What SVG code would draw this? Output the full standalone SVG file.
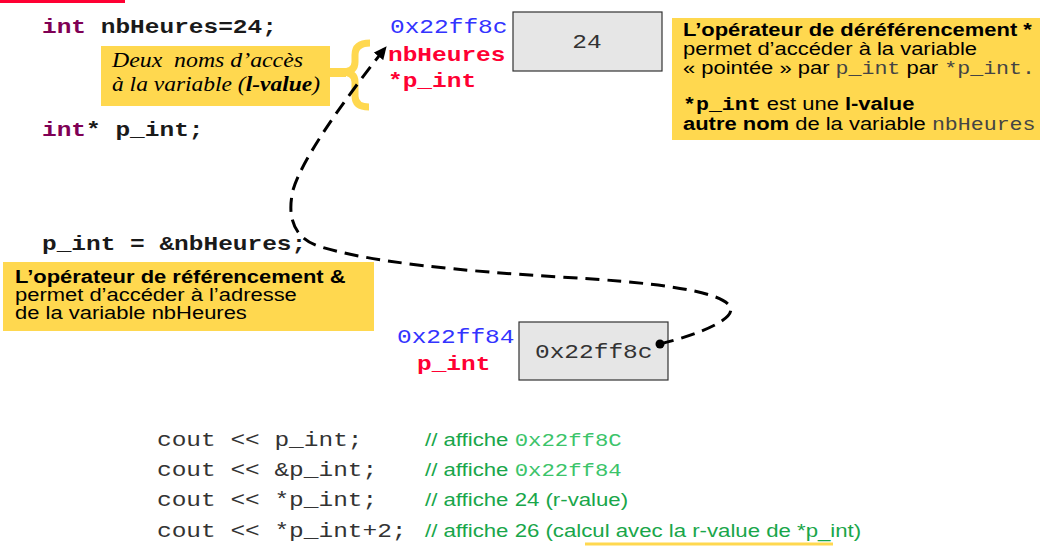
<svg xmlns="http://www.w3.org/2000/svg" width="1045" height="549" viewBox="0 0 1045 549">
  <style>
    .code { font-family: "Liberation Mono", "Courier New", monospace; font-weight: bold; font-size: 20.4px; fill: #1a1a1a; }
    .kw { fill: #7f0055; }
    .addr { font-family: "Liberation Mono", "Courier New", monospace; font-size: 20.4px; fill: #3333ff; }
    .name { font-family: "Liberation Mono", "Courier New", monospace; font-weight: bold; font-size: 20.4px; fill: #ff0033; }
    .val { font-family: "Liberation Mono", "Courier New", monospace; font-size: 20.4px; fill: #333333; }
    .cell { fill: #e6e6e6; stroke: #333333; stroke-width: 1.2; }
    .note { fill: #ffd84f; }
    .sans { font-family: "Liberation Sans", Arial, sans-serif; font-size: 18.3px; fill: #000000; }
    .b { font-weight: bold; }
    .mono { font-family: "Liberation Mono", "Courier New", monospace; font-size: 18px; fill: #444444; }
    .monob { font-family: "Liberation Mono", "Courier New", monospace; font-size: 18px; font-weight: bold; fill: #000000; }
    .script { font-family: "Liberation Serif", "DejaVu Serif", serif; font-style: italic; font-size: 21px; fill: #000000; }
    .cmt { font-family: "Liberation Sans", Arial, sans-serif; font-size: 18.5px; fill: #19a64a; }
    .cmtnum { font-family: "Liberation Mono", "Courier New", monospace; font-size: 18.6px; fill: #3cc46a; }
    .link { fill: none; stroke: #000000; stroke-width: 3; stroke-dasharray: 14 8; }
  </style>
  <defs>
    <marker id="arrow" markerUnits="userSpaceOnUse" markerWidth="14" markerHeight="12" refX="12" refY="6" orient="auto">
      <path d="M0,0 L13,6 L0,12 Z" fill="#000000"/>
    </marker>
  </defs>

  <!-- slide accent -->
  <rect x="0" y="0" width="125" height="3" fill="#ff0033"/>

  <!-- declarations -->
  <g id="decl-nbHeures">
    <text class="code" transform="translate(42,33) scale(1.2,1)"><tspan class="kw">int</tspan> nbHeures=24;</text>
  </g>
  <g id="decl-p_int">
    <text class="code" transform="translate(42,136) scale(1.2,1)"><tspan class="kw">int</tspan>* p_int;</text>
  </g>
  <g id="assign">
    <text class="code" transform="translate(42,250) scale(1.2,1)">p_int = &amp;nbHeures;</text>
  </g>

  <!-- l-value note with brace -->
  <g id="note-lvalue">
    <rect class="note" x="101" y="46" width="229" height="60"/>
    <rect class="note" x="328" y="68" width="18" height="9"/>
    <path d="M370,43 Q355,43 355,55 L355,62 Q355,72 342,72 Q355,72 355,82 L355,96 Q355,107 369,107" fill="none" stroke="#ffd84f" stroke-width="7"/>
    <text class="script" x="112" y="67" textLength="191" lengthAdjust="spacingAndGlyphs" xml:space="preserve">Deux  noms d’accès</text>
    <text class="script" x="112" y="91" textLength="208" lengthAdjust="spacingAndGlyphs">à la variable (<tspan font-weight="bold">l-value</tspan>)</text>
  </g>

  <!-- variable nbHeures -->
  <g id="var-nbHeures">
    <rect class="cell" x="513" y="12" width="149" height="59"/>
    <text class="val" text-anchor="middle" transform="translate(587,48) scale(1.2,1)">24</text>
    <text class="addr" transform="translate(390,33) scale(1.2,1)">0x22ff8c</text>
    <text class="name" transform="translate(388,61) scale(1.2,1)">nbHeures</text>
    <text class="name" transform="translate(388,87) scale(1.2,1)">*p_int</text>
  </g>

  <!-- variable p_int -->
  <g id="var-p_int">
    <rect class="cell" x="519" y="322" width="149" height="58"/>
    <text class="val" transform="translate(535,358) scale(1.2,1)">0x22ff8c</text>
    <text class="addr" transform="translate(397,343) scale(1.2,1)">0x22ff84</text>
    <text class="name" transform="translate(417,370) scale(1.2,1)">p_int</text>
  </g>

  <!-- dereference note -->
  <g id="note-deref">
    <rect class="note" x="672" y="18" width="368" height="122"/>
    <text class="sans b" transform="translate(683,36) scale(1.2,1)">L’opérateur de déréférencement *</text>
    <text class="sans" transform="translate(683,55) scale(1.2,1)">permet d’accéder à la variable</text>
    <text class="sans" transform="translate(683,74) scale(1.2,1)">« pointée » par <tspan class="mono">p_int</tspan> par <tspan class="mono">*p_int.</tspan></text>
    <text class="sans" transform="translate(683,110) scale(1.2,1)"><tspan class="monob">*p_int</tspan> est une <tspan class="b">l-value</tspan></text>
    <text class="sans" transform="translate(683,130) scale(1.2,1)"><tspan class="b">autre nom</tspan> de la variable <tspan class="mono">nbHeures</tspan></text>
  </g>

  <!-- reference note -->
  <g id="note-ref">
    <rect class="note" x="3" y="262" width="371" height="69"/>
    <text class="sans b" transform="translate(15,283) scale(1.2,1)">L’opérateur de référencement &amp;</text>
    <text class="sans" transform="translate(15,301) scale(1.2,1)">permet d’accéder à l’adresse</text>
    <text class="sans" transform="translate(15,319) scale(1.2,1)">de la variable nbHeures</text>
  </g>

  <!-- pointer link -->
  <g id="connectors">
    <path class="link" d="M660,344 C700,334 740,318 729,305 C716,290 650,282 560,277 C460,271 368,262 318,246 C290,236 288,212 293,190 C302,160 340,105 386,47" marker-end="url(#arrow)"/>
    <circle cx="660" cy="344" r="4.5" fill="#000000"/>
  </g>

  <!-- output examples -->
  <g id="output-lines">
    <text class="val" transform="translate(157,446) scale(1.2,1)" xml:space="preserve">cout &lt;&lt; p_int;</text>
    <text class="val" transform="translate(157,476) scale(1.2,1)" xml:space="preserve">cout &lt;&lt; &amp;p_int;</text>
    <text class="val" transform="translate(157,506) scale(1.2,1)" xml:space="preserve">cout &lt;&lt; *p_int;</text>
    <text class="val" transform="translate(157,537) scale(1.2,1)" xml:space="preserve">cout &lt;&lt; *p_int+2;</text>
    <text class="cmt" transform="translate(425,446) scale(1.2,1)">// affiche <tspan class="cmtnum">0x22ff8C</tspan></text>
    <text class="cmt" transform="translate(425,476) scale(1.2,1)">// affiche <tspan class="cmtnum">0x22ff84</tspan></text>
    <text class="cmt" transform="translate(425,506) scale(1.2,1)">// affiche 24 (r-value)</text>
    <text class="cmt" transform="translate(425,537) scale(1.2,1)">// affiche 26 (calcul avec la r-value de *p_int)</text>
    <line x1="585" y1="544" x2="833" y2="544" stroke="#ffd84f" stroke-width="3"/>
  </g>
</svg>
